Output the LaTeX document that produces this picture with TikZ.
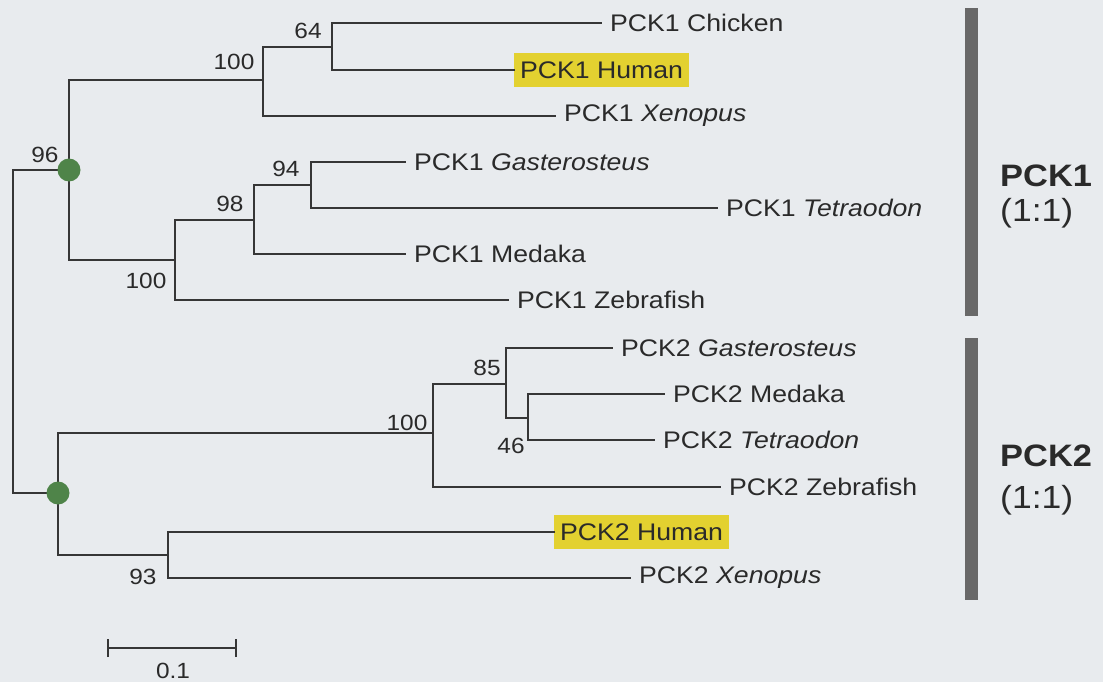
\documentclass[tikz,border=0pt]{standalone}
\usepackage{fontspec}
\setmainfont{Liberation Sans}[FakeStretch=1.11]
\definecolor{bgc}{HTML}{E8EBEE}
\definecolor{linec}{HTML}{363636}
\definecolor{txtc}{HTML}{2A2A2A}
\definecolor{barc}{HTML}{686868}
\definecolor{hly}{HTML}{E3D130}
\definecolor{dotc}{HTML}{4F8449}
\begin{document}
\begin{tikzpicture}[x=1pt,y=-1pt,
  br/.style={draw=linec, line width=2.7pt, line cap=rect},
  leaf/.style={anchor=west, inner xsep=9pt, inner ysep=2pt, text=txtc, font=\fontsize{24}{28}\selectfont},
  hl/.style={leaf, fill=hly, inner xsep=6pt, minimum height=34pt},
  bs/.style={text=txtc, inner sep=0pt, font=\fontsize{22}{26}\selectfont},
  clade/.style={text=txtc, anchor=west, inner sep=0pt, font=\fontsize{31}{35}\selectfont\bfseries},
  ratio/.style={text=txtc, anchor=west, inner sep=0pt, font=\fontsize{32}{36}\selectfont},
  dot/.style={circle, fill=dotc, inner sep=0pt, minimum size=23pt},
  grp/.style={fill=barc, draw=none}
]
\fill[bgc] (0,0) rectangle (1103,682);
\useasboundingbox (0,0) rectangle (1103,682);

% internal nodes
\coordinate (rt) at (13,331);
\coordinate (n96) at (69,170);
\coordinate (nP2) at (58,493);
\coordinate (a100) at (263,80);
\coordinate (a64) at (332,47);
\coordinate (b100) at (175,260);
\coordinate (b98) at (254,220);
\coordinate (b94) at (311,185);
\coordinate (c100) at (433,433);
\coordinate (c85) at (506,384);
\coordinate (c46) at (528,418);
\coordinate (d93) at (168,555);

% leaves
\node[leaf] (chk1) at (601,23) {PCK1 Chicken};
\node[hl]   (hum1) at (514,70) {PCK1 Human};
\node[leaf] (xen1) at (555,116) {PCK1 \textit{Xenopus}};
\node[leaf] (gas1) at (405,162) {PCK1 \textit{Gasterosteus}};
\node[leaf] (tet1) at (717,208) {PCK1 \textit{Tetraodon}};
\node[leaf] (med1) at (405,254) {PCK1 Medaka};
\node[leaf] (zeb1) at (508,300) {PCK1 Zebrafish};
\node[leaf] (gas2) at (612,348) {PCK2 \textit{Gasterosteus}};
\node[leaf] (med2) at (664,394) {PCK2 Medaka};
\node[leaf] (tet2) at (654,440) {PCK2 \textit{Tetraodon}};
\node[leaf] (zeb2) at (720,487) {PCK2 Zebrafish};
\node[hl]   (hum2) at (554,532) {PCK2 Human};
\node[leaf] (xen2) at (630,578) {PCK2 \textit{Xenopus}};

% branches
\draw[br] (n96) -| (rt) |- (nP2);
\draw[br] (n96) |- (a100);
\draw[br] (a100) |- (a64);
\draw[br] (a64) |- (chk1.west);
\draw[br] (a64) |- (hum1.west);
\draw[br] (a100) |- (xen1.west);
\draw[br] (n96) |- (b100);
\draw[br] (b100) |- (b98);
\draw[br] (b98) |- (b94);
\draw[br] (b94) |- (gas1.west);
\draw[br] (b94) |- (tet1.west);
\draw[br] (b98) |- (med1.west);
\draw[br] (b100) |- (zeb1.west);
\draw[br] (nP2) |- (c100);
\draw[br] (c100) |- (c85);
\draw[br] (c85) |- (gas2.west);
\draw[br] (c85) |- (c46);
\draw[br] (c46) |- (med2.west);
\draw[br] (c46) |- (tet2.west);
\draw[br] (c100) |- (zeb2.west);
\draw[br] (nP2) |- (d93);
\draw[br] (d93) |- (hum2.west);
\draw[br] (d93) |- (xen2.west);

% green dots
\node[dot] (g1) at (n96) {};
\node[dot] (g2) at (nP2) {};

% bootstrap values
\node[bs] (l96) at (45,155) {96};
\node[bs] (la100) at (234,62) {100};
\node[bs] (l64) at (308,31) {64};
\node[bs] (l94) at (286,169) {94};
\node[bs] (l98) at (230,204) {98};
\node[bs] (lb100) at (146,281) {100};
\node[bs] (l85) at (487,368) {85};
\node[bs] (lc100) at (407,423) {100};
\node[bs] (l46) at (511,446) {46};
\node[bs] (l93) at (143,577) {93};

% scale bar
\coordinate (sb1) at (108,648);
\coordinate (sb2) at (236,648);
\draw[br, line cap=butt] (sb1) -- (sb2);
\draw[br, line cap=butt] ([yshift=-9pt]sb1) -- ([yshift=9pt]sb1);
\draw[br, line cap=butt] ([yshift=-9pt]sb2) -- ([yshift=9pt]sb2);
\node[bs] (sbl) at (173,671) {0.1};

% group bars
\fill[grp] (965,8) rectangle (978,316);
\fill[grp] (965,338) rectangle (978,600);
\node[clade] (p1) at (1000,176) {PCK1};
\node[ratio] (r1) at (1000,213) {(1:1)};
\node[clade] (p2) at (1000,456) {PCK2};
\node[ratio] (r2) at (1000,500) {(1:1)};
\end{tikzpicture}
\end{document}
